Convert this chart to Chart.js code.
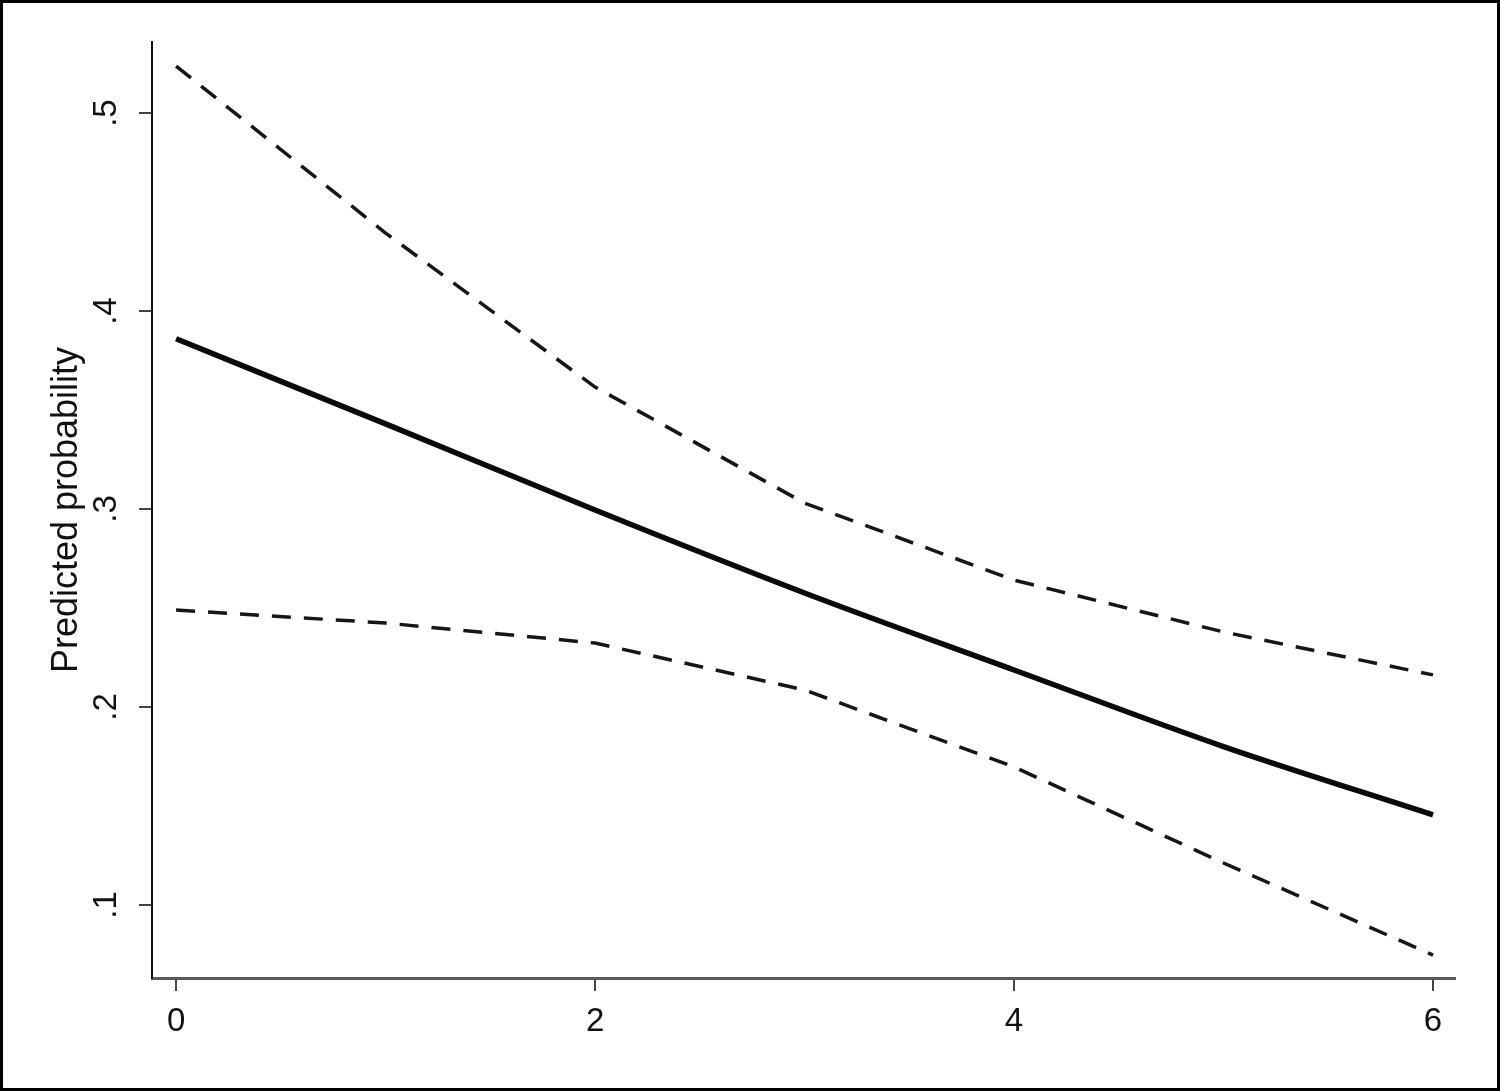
<!DOCTYPE html>
<html>
<head>
<meta charset="utf-8">
<title>Predicted probability</title>
<script src="https://cdn.jsdelivr.net/npm/chart.js@4.4.1/dist/chart.umd.min.js"></script>
<style>
	html, body { margin: 0; padding: 0; background: #fff; }
	#frame { width: 1500px; height: 1091px; box-sizing: border-box; border: 3px solid #000; background: #fff; }
	#lineChart { display: block; }
</style>
</head>
<body>
<div id="frame"><canvas id="lineChart" width="1494" height="1085"></canvas></div>
<script>
// values
var xValues = [0, 1, 2, 3, 4, 5, 6];
var predicted = [0.386, 0.343, 0.2995, 0.2576, 0.2187, 0.1800, 0.1455];
var upperCI = [0.5237, 0.4394, 0.3616, 0.3030, 0.2641, 0.2379, 0.2162];
var lowerCI = [0.2490, 0.2424, 0.2323, 0.2086, 0.1697, 0.1212, 0.0747];

var xTicks = [0, 2, 4, 6];
var yTicks = [0.1, 0.2, 0.3, 0.4, 0.5];
var yTitle = "Predicted probability";

function toPoints(ys) {
	var pts = [];
	for (var i in xValues) {
		pts.push({x: xValues[i], y: ys[i]});
	}
	return pts;
}

var fontFamily = "'Liberation Sans', Arial, Helvetica, sans-serif";

window.onload = function() {
	var ctx = document.getElementById("lineChart");

	//line chart data
	var chartdata = {
		datasets: [
			{
				label: "Upper CI",
				data: toPoints(upperCI),
				borderColor: "#161616",
				borderWidth: 3.5,
				borderDash: [19, 13],
				pointRadius: 0,
				tension: 0,
				fill: false
			},
			{
				label: "Lower CI",
				data: toPoints(lowerCI),
				borderColor: "#161616",
				borderWidth: 3.5,
				borderDash: [19, 13],
				pointRadius: 0,
				tension: 0,
				fill: false
			},
			{
				label: "Predicted",
				data: toPoints(predicted),
				borderColor: "#0a0a0a",
				borderWidth: 5.5,
				pointRadius: 0,
				cubicInterpolationMode: "monotone",
				fill: false
			}
		]
	};

	//options
	var options = {
		responsive: false,
		animation: false,
		layout: {
			padding: {left: 0, top: 39, right: 42, bottom: 0}
		},
		plugins: {
			legend: {display: false},
			tooltip: {enabled: false}
		},
		scales: {
			x: {
				type: "linear",
				min: -0.115,
				max: 6.105,
				afterBuildTicks: function(axis) {
					axis.ticks = xTicks.map(function(v) { return {value: v}; });
				},
				afterFit: function(axis) { axis.height = 110; },
				border: {display: true, color: "#5a5a5a", width: 3},
				grid: {display: true, drawOnChartArea: false, drawTicks: true, tickLength: 13, color: "#444", lineWidth: 2},
				ticks: {
					color: "#111",
					padding: 11,
					maxRotation: 0,
					font: {family: fontFamily, size: 33},
					callback: function(value) { return String(value); }
				}
			},
			y: {
				type: "linear",
				min: 0.0631,
				max: 0.5359,
				afterBuildTicks: function(axis) {
					axis.ticks = yTicks.map(function(v) { return {value: v}; });
				},
				afterFit: function(axis) { axis.width = 149; },
				border: {display: true, color: "#111", width: 2},
				grid: {display: true, drawOnChartArea: false, drawTicks: true, tickLength: 13, color: "#444", lineWidth: 2},
				ticks: {
					color: "#111",
					padding: 18,
					minRotation: 90,
					maxRotation: 90,
					crossAlign: "center",
					font: {family: fontFamily, size: 33},
					callback: function(value) { return String(value).replace(/^0/, ""); }
				},
				title: {
					display: true,
					text: yTitle,
					color: "#111",
					padding: {top: 42, bottom: 0},
					font: {family: fontFamily, size: 36}
				}
			}
		}
	};

	//create Chart class object
	var chart1 = new Chart(ctx, {
		type: "line",
		data: chartdata,
		options: options
	});
};
</script>
</body>
</html>
